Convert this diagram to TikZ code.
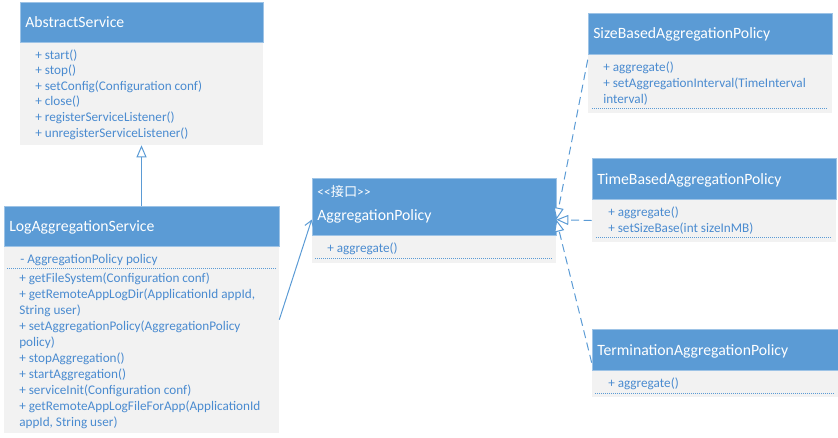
\documentclass[tikz,border=0pt]{standalone}
\usepackage{fontspec}
\setmainfont{Carlito}
\newfontfamily\cjk{Noto Sans CJK SC}
\usetikzlibrary{arrows.meta,calc,fit}
\definecolor{hblue}{HTML}{5B9BD5}
\definecolor{tblue}{HTML}{4A8BD0}
\definecolor{bgrey}{HTML}{F2F2F2}
\definecolor{hedge}{HTML}{9DC3E6}
\tikzset{
  x=0.75pt, y=-0.75pt,
  hdr/.style={fill=hblue, draw=hedge, line width=0.5pt, inner sep=0pt},
  bdy/.style={fill=bgrey, draw=none, inner sep=0pt},
  ttl/.style={anchor=base west, inner sep=0pt, text=white, font=\fontsize{11.8}{14}\selectfont},
  mem/.style={anchor=base west, inner sep=0pt, text=tblue, font=\fontsize{9.9}{12}\selectfont},
  sep/.style={draw=hblue, line width=0.75pt, dash pattern=on 0.75pt off 0.75pt},
  conn/.style={draw=hblue, line width=0.75pt},
  inherit/.style={conn, -{Triangle[open, length=9pt, width=7.5pt, fill=white]}},
  assoc/.style={conn, -{Straight Barb[length=5pt, width=7pt]}},
  realize/.style={conn, dash pattern=on 6pt off 3.5pt, -{Triangle[open, length=9pt, width=7.5pt, fill=white]}}
}
\begin{document}
\begin{tikzpicture}
\useasboundingbox (0,0) rectangle (838,437);
% ---------- AbstractService
\node[bdy, fit={(20,42) (263,145)}] (absb) {};
\node[hdr, fit={(20,2) (263,42)}] (absh) {};
\node[ttl] (abst) at (25,27) {AbstractService};
\foreach \t [count=\i from 0] in {{+ start()},{+ stop()},{+ setConfig(Configuration conf)},{+ close()},{+ registerServiceListener()},{+ unregisterServiceListener()}}
  \node[mem] (absm\i) at (35,59+15.6*\i) {\t};
% ---------- LogAggregationService
\node[bdy, fit={(4,246) (279,433)}] (logb) {};
\node[hdr, fit={(4,206) (279,246)}] (logh) {};
\node[ttl] (logt) at (9,231) {LogAggregationService};
\node[mem] (loga) at (20,263) {- AggregationPolicy policy};
\draw[sep] (7,268) -- (276,268);
\foreach \t [count=\i from 0] in {{+ getFileSystem(Configuration conf)},{+ getRemoteAppLogDir(ApplicationId appId,},{String user)},{+ setAggregationPolicy(AggregationPolicy},{policy)},{+ stopAggregation()},{+ startAggregation()},{+ serviceInit(Configuration conf)},{+ getRemoteAppLogFileForApp(ApplicationId},{appId, String user)}}
  \node[mem] (logm\i) at (19,282+16*\i) {\t};
% ---------- AggregationPolicy
\node[bdy, fit={(312,235) (556,263)}] (aggb) {};
\node[hdr, fit={(312,178) (556,235)}] (aggh) {};
\node[ttl, font=\fontsize{9.9}{12}\selectfont] (aggs) at (317,196) {<\kern0.3pt<{\cjk 接口}>\kern0.3pt>};
\node[ttl] (aggt) at (317,220) {AggregationPolicy};
\node[mem] (aggm0) at (327,252) {+ aggregate()};
\draw[sep] (315,258) -- (552,258);
% ---------- SizeBasedAggregationPolicy
\node[bdy, fit={(588,54) (832,113)}] (sizeb) {};
\node[hdr, fit={(588,13) (832,54)}] (sizeh) {};
\node[ttl] (sizet) at (593,38) {SizeBasedAggregationPolicy};
\foreach \t [count=\i from 0] in {{+ aggregate()},{+ setAggregationInterval(TimeInterval},{interval)}}
  \node[mem] (sizem\i) at (603,71+16*\i) {\t};
\draw[sep] (592,108) -- (828,108);
% ---------- TimeBasedAggregationPolicy
\node[bdy, fit={(592,199) (836,242)}] (timeb) {};
\node[hdr, fit={(592,158) (836,199)}] (timeh) {};
\node[ttl] (timet) at (597,184) {TimeBasedAggregationPolicy};
\foreach \t [count=\i from 0] in {{+ aggregate()},{+ setSizeBase(int sizeInMB)}}
  \node[mem] (timem\i) at (608,216+16*\i) {\t};
\draw[sep] (596,237) -- (832,237);
% ---------- TerminationAggregationPolicy
\node[bdy, fit={(592,370) (838,397)}] (termb) {};
\node[hdr, fit={(592,329) (838,370)}] (termh) {};
\node[ttl] (termt) at (597,355) {TerminationAggregationPolicy};
\node[mem] (termm0) at (608,387) {+ aggregate()};
\draw[sep] (595,393) -- (835,393);
% ---------- connectors
\draw[inherit] (logh.north) -- (absb.south);
\draw[assoc] ($(logb.north east)+(0,74)$) -- ($(aggh.north west)+(0,42)$);
\draw[realize] ($(sizeb.north west)+(0,6)$) -- ($(aggh.north east)+(0,42)$);
\draw[realize] (timeb.west) -- ($(aggh.north east)+(0,42)$);
\draw[realize] ($(termh.north west)+(0,34)$) -- ($(aggh.north east)+(0,42)$);
\end{tikzpicture}
\end{document}
